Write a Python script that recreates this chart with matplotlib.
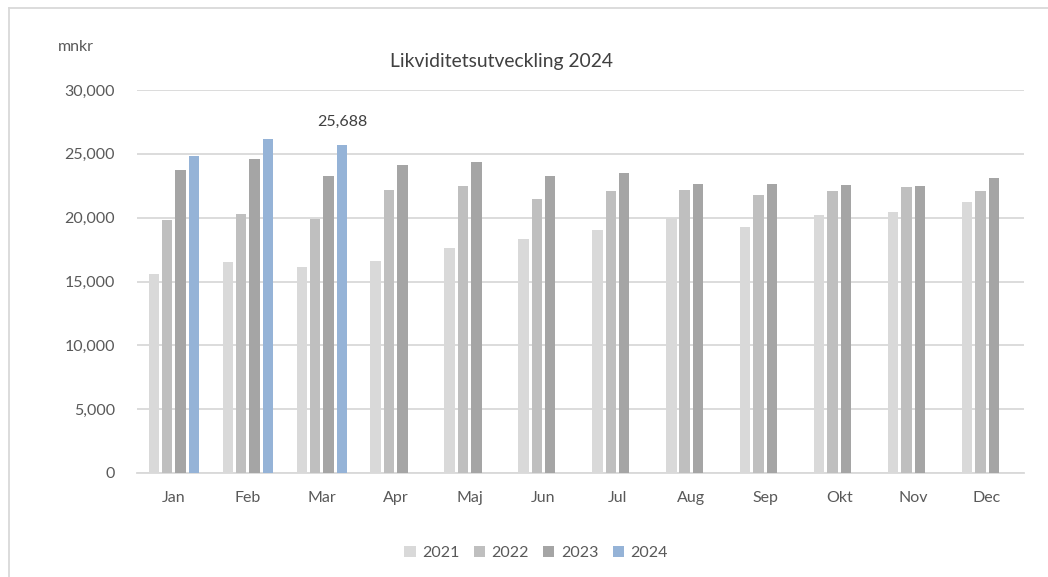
import numpy as np
import matplotlib.pyplot as plt
from matplotlib.lines import Line2D
from matplotlib.ticker import FuncFormatter

plt.rcParams['font.family'] = ['Lato', 'DejaVu Sans']

# data (mnkr)
months = ['Jan', 'Feb', 'Mar', 'Apr', 'Maj', 'Jun', 'Jul', 'Aug', 'Sep', 'Okt', 'Nov', 'Dec']
years = ['2021', '2022', '2023', '2024']
v2021 = [15600, 16550, 16130, 16600, 17600, 18320, 19030, 19940, 19260, 20200, 20410, 21220]
v2022 = [19780, 20300, 19900, 22140, 22470, 21500, 22060, 22160, 21770, 22100, 22370, 22060]
v2023 = [23700, 24560, 23280, 24100, 24330, 23260, 23470, 22660, 22660, 22580, 22470, 23080]
v2024 = [24850, 26150, 25688]
series = [v2021, v2022, v2023, v2024]
colors = ['#D9D9D9', '#BFBFBF', '#A5A5A5', '#95B3D7']

txt = '#595959'
grid = '#D9D9D9'

fig = plt.figure(figsize=(10.48, 5.77), dpi=100)
ax = fig.add_axes([137 / 1048, 1 - 473 / 577, (1024 - 137) / 1048, (473 - 90) / 577])

x = np.arange(len(months))
slot = 0.181
for i, (vals, c, yr) in enumerate(zip(series, colors, years)):
    pos = x[:len(vals)] + (i - 1.5) * slot
    ax.bar(pos, vals, width=slot * 0.78, color=c, label=yr, zorder=3)

# label on the last 2024 value
last = len(v2024) - 1
ax.text(x[last] + 1.5 * slot, v2024[last] + 1250, f'{v2024[last]:,}',
        ha='center', va='bottom', fontsize=11.5, color='#404040')

ax.set_xlim(-0.5, len(months) - 0.5)
ax.set_ylim(0, 30000)
ax.set_yticks(np.arange(0, 30001, 5000))
ax.yaxis.set_major_formatter(FuncFormatter(lambda v, p: f'{int(v):,}'))
ax.set_xticks(x)
ax.set_xticklabels(months)
ax.tick_params(length=0, colors=txt, labelsize=11.5)
ax.tick_params(axis='x', pad=13)
ax.tick_params(axis='y', pad=16)
ax.grid(axis='y', color=grid, linewidth=1.3, zorder=0)
for s in ['top', 'right', 'left']:
    ax.spines[s].set_visible(False)
ax.spines['bottom'].set_color(grid)
ax.spines['bottom'].set_linewidth(1.3)

fig.text(501 / 1048, 1 - 61 / 577, 'Likviditetsutveckling 2024', ha='center', va='center',
         fontsize=13.9, color='#404040')
fig.text(58 / 1048, 1 - 47 / 577, 'mnkr', ha='left', va='center', fontsize=11.5, color=txt)

fig.legend(loc='center', bbox_to_anchor=(536 / 1048, 1 - 553 / 577), ncol=4, frameon=False,
           handlelength=0.7, handleheight=0.7, handletextpad=0.4, columnspacing=0.9,
           fontsize=11.5, labelcolor=txt)

# outer chart border (left and top edges visible)
fig.add_artist(Line2D([8.5 / 1048, 8.5 / 1048], [0, 1 - 7.5 / 577], transform=fig.transFigure,
                      color=grid, linewidth=1.3))
fig.add_artist(Line2D([8.5 / 1048, 1], [1 - 7.5 / 577, 1 - 7.5 / 577], transform=fig.transFigure,
                      color=grid, linewidth=1.3))

fig.savefig('out.png', dpi=100)
